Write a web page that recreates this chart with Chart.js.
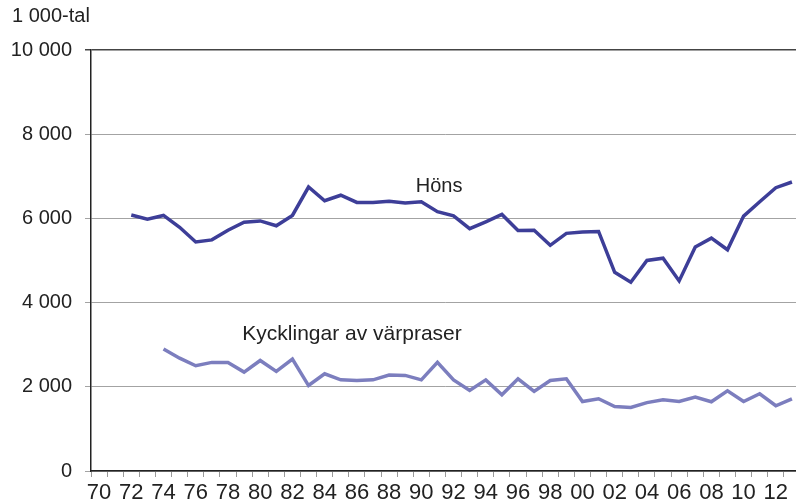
<!DOCTYPE html>
<html>
<head>
<meta charset="utf-8">
<script src="https://cdn.jsdelivr.net/npm/chart.js@4/dist/chart.umd.min.js"></script>
<style>
html,body{margin:0;padding:0;background:#fff;overflow:hidden;width:796px;height:502px;}
#wrap{width:806px;height:502px;position:relative;}
</style>
</head>
<body>
<div id="wrap"><canvas id="c" width="806" height="502"></canvas></div>
<script>
const years = [];
for (let y = 1970; y <= 2013; y++) years.push(y);
const hons = [null, null, 6080, 5980, 6070, 5790, 5440, 5490, 5720, 5910, 5940, 5825, 6070, 6745, 6420, 6550, 6380, 6375, 6410, 6365, 6395, 6160, 6060, 5755, 5920, 6095, 5715, 5720, 5360, 5645, 5675, 5690, 4720, 4485, 5000, 5055, 4515, 5320, 5530, 5255, 6055, 6395, 6730, 6865];
const kycklingar = [null, null, null, null, 2900, 2680, 2500, 2580, 2580, 2350, 2625, 2365, 2660, 2030, 2310, 2165, 2150, 2165, 2280, 2270, 2165, 2580, 2165, 1915, 2165, 1810, 2190, 1890, 2150, 2190, 1650, 1715, 1530, 1510, 1625, 1690, 1650, 1755, 1645, 1905, 1650, 1835, 1550, 1715];
const yTicks = [0, 2000, 4000, 6000, 8000, 10000];
const unitLabel = '1 000-tal';
const seriesLabels = ['Höns', 'Kycklingar av värpraser'];

const fmt = v => String(v).replace(/\B(?=(\d{3})+(?!\d))/g, ' ');

const textPlugin = {
  id: 'texts',
  afterDraw(chart) {
    const ctx = chart.ctx;
    const xs = chart.scales.x, ys = chart.scales.y;
    ctx.save();
    ctx.fillStyle = '#222';
    ctx.font = '20px "Liberation Sans", Arial, sans-serif';
    ctx.textBaseline = 'middle';
    ctx.textAlign = 'left';
    ctx.fillText(unitLabel, 12, 16);
    ctx.textAlign = 'center';
    ctx.fillText(seriesLabels[0], xs.getPixelForValue(21.1), ys.getPixelForValue(6750));
    ctx.font = '21px "Liberation Sans", Arial, sans-serif';
    ctx.fillText(seriesLabels[1], xs.getPixelForValue(15.7), ys.getPixelForValue(3250));
    ctx.restore();
  }
};

new Chart(document.getElementById('c'), {
  type: 'line',
  data: {
    labels: years,
    datasets: [
      { label: seriesLabels[0], data: hons, borderColor: '#3d3e98', borderWidth: 3.5, pointRadius: 0, tension: 0, fill: false },
      { label: seriesLabels[1], data: kycklingar, borderColor: '#7c7ebe', borderWidth: 3.5, pointRadius: 0, tension: 0, fill: false }
    ]
  },
  options: {
    responsive: false,
    animation: false,
    devicePixelRatio: 1,
    layout: { padding: { top: 50, left: 0, right: 6, bottom: 0 } },
    plugins: { legend: { display: false }, tooltip: { enabled: false }, title: { display: false } },
    scales: {
      x: {
        type: 'category',
        offset: true,
        grid: { offset: true, drawOnChartArea: false, drawTicks: true, tickLength: 6, color: '#999' },
        border: { display: true, color: '#222', width: 1.5 },
        ticks: {
          autoSkip: false, maxRotation: 0, minRotation: 0, padding: 3,
          color: '#222',
          font: { family: '"Liberation Sans", Arial, sans-serif', size: 22 },
          callback: function(v, i) { const y = years[i]; return y % 2 === 0 ? String(y % 100).padStart(2, '0') : ''; }
        },
        afterFit(s) { s.height = 31; }
      },
      y: {
        min: 0, max: 10000,
        afterBuildTicks(s) { s.ticks = yTicks.map(v => ({ value: v })); },
        grid: {
          color: c => (c.tick && c.tick.value === 10000) ? '#444' : '#a3a3a3',
          lineWidth: c => (c.tick && c.tick.value === 10000) ? 1.5 : 1,
          tickLength: 6, drawTicks: true
        },
        border: { display: true, color: '#222', width: 1.5 },
        ticks: {
          padding: 13, color: '#222',
          font: { family: '"Liberation Sans", Arial, sans-serif', size: 20 },
          callback: v => fmt(v)
        },
        afterFit(s) { s.width = 91; }
      }
    }
  },
  plugins: [textPlugin]
});
</script>
</body>
</html>
